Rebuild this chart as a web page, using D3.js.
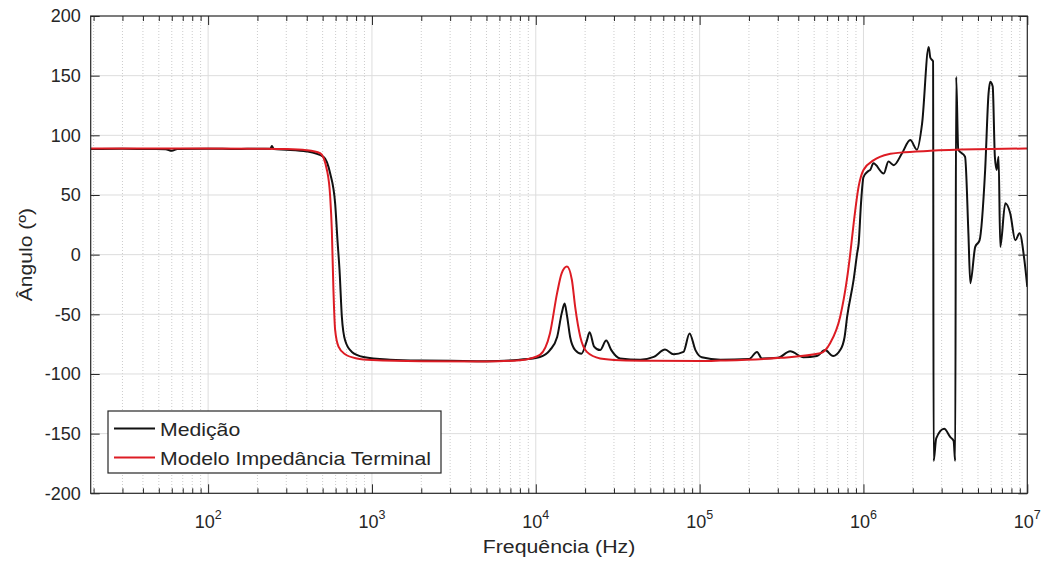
<!DOCTYPE html>
<html>
<head>
<meta charset="utf-8">
<script src="https://cdn.jsdelivr.net/npm/d3@7"></script>
<style>
    body { margin: 0; background: #fff; }
    text { font-family: "Liberation Sans", Arial, sans-serif; fill: #262626; }
</style>
</head>
<body>
<div class="chart-container"></div>
<script>
// Data (frequency in Hz, angle in degrees).
const xMin = 19.2;
const xMax = 1e7;

const yTicks = [-200, -150, -100, -50, 0, 50, 100, 150, 200];
const xDecades = [2, 3, 4, 5, 6, 7];

const measFreq = [19.2, 30, 45, 55, 60, 65, 100, 150, 200, 240, 245, 252, 300, 400,
    506, 556, 596, 616, 634, 655, 686, 754, 887, 1290, 2000, 3000, 5000, 8000,
    10600, 12200, 13500, 14400, 15000, 15500, 16200, 17400, 19000, 20500, 21300,
    22700, 24700, 26900, 28900, 32700, 43500, 52500, 61500, 69400, 79700, 86800,
    94300, 103000, 134000, 200000, 224000, 240000, 300000, 357000, 430000, 520000,
    583000, 653000, 721000, 767000, 795000, 871000, 915000, 935000, 966000,
    1000000, 1070000, 1100000, 1150000, 1330000, 1420000, 1530000, 1720000,
    1930000, 2120000, 2280000, 2500000, 2560000, 2660000, 2680000, 2780000,
    3110000, 3390000, 3550000, 3630000, 3680000, 3790000, 4170000, 4370000,
    4490000, 4810000, 5110000, 5530000, 5800000, 5940000, 6150000, 6340000,
    6500000, 6680000, 6840000, 7340000, 7870000, 8450000, 8970000, 9600000, 10000000];
const measAngle = [88.5, 88.8, 88.5, 88.3, 87, 88.5, 88.8, 88.5, 88.8, 88.8, 91, 88.5, 88, 86.5,
    82, 68, 43, 12, -13, -52, -72, -81.5, -85.7, -88, -88.8, -89, -89.3, -88,
    -85.7, -80, -69, -49, -41, -51, -69, -80, -83, -72, -65,
    -77, -80, -72, -80, -87, -88, -85.7, -79.5, -83.5, -81.5, -66,
    -80, -86, -88, -87.5, -81.5, -87, -86.5, -81, -86, -85,
    -80, -85, -80, -69, -52, -21, 1, 9.6, 43,
    65, 70, 71, 76.5, 68, 78, 75, 85,
    96, 88, 110, 174, 165, 162, -173, -154,
    -146, -153, -156, -173, 149, 88, 82, 18,
    -24, 6.5, 12, 71, 135, 145, 141, 82,
    71, 82, 6.5, 43, 34.5, 12, 18, -4.6, -27];

const modelFreq = [19.2, 50, 100, 200, 300, 400, 483, 531, 556, 569, 582, 596, 625, 686,
    809, 1000, 2000, 5000, 8000, 9250, 10600, 12200, 13500, 14400, 15500, 16600,
    17400, 18700, 20500, 24700, 32700, 50000, 100000, 134000, 310000, 545000,
    627000, 721000, 792000, 831000, 871000, 934000, 1000000, 1150000, 1260000,
    1460000, 1680000, 2560000, 5000000, 10000000];
const modelAngle = [89, 89, 89, 88.8, 88.5, 87.5, 85, 71, 48.5, 20.5, -30, -63, -77, -83.5,
    -87, -88.3, -89.3, -89.5, -88.5, -87, -84, -66, -32, -15.5, -10, -21,
    -44, -69, -81.5, -87, -88.5, -89, -89.2, -88.8, -86.5, -82.7,
    -74, -52, -21, 1, 26, 57, 71, 79, 82,
    84.5, 85.5, 87, 88.3, 89];

const seriesNames = ['Medição', 'Modelo Impedância Terminal'];
const seriesColors = ['#111111', '#dd1c24'];

function buildChart() {
    const width = 1043;
    const height = 561;
    const margin = {top: 16, right: 15.7, bottom: 67.7, left: 90.7};

    const measured = measFreq.map((f, i) => [f, measAngle[i]]);
    const model = modelFreq.map((f, i) => [f, modelAngle[i]]);

    // Scales.
    const x = d3.scaleLog()
        .domain([xMin, xMax])
        .range([margin.left, width - margin.right]);

    const y = d3.scaleLinear()
        .domain([-200, 200])
        .range([height - margin.bottom, margin.top]);

    const majorX = xDecades.map(d => Math.pow(10, d));
    const minorX = [];
    for (let d = 1; d <= 6; d++) {
        for (let m = 2; m <= 9; m++) {
            const v = m * Math.pow(10, d);
            if (v > xMin && v < xMax) minorX.push(v);
        }
    }

    const svg = d3.select('.chart-container')
        .append('svg')
        .attr('width', width)
        .attr('height', height);

    // Grid.
    const grid = svg.append('g').attr('class', 'grid');

    grid.selectAll('line.minor')
        .data(minorX)
        .join('line')
        .attr('class', 'minor')
        .attr('x1', d => x(d)).attr('x2', d => x(d))
        .attr('y1', y(200)).attr('y2', y(-200))
        .attr('stroke', '#cccccc')
        .attr('stroke-width', 1)
        .attr('stroke-dasharray', '1,2');

    grid.selectAll('line.majorx')
        .data(majorX.filter(d => d < xMax))
        .join('line')
        .attr('class', 'majorx')
        .attr('x1', d => x(d)).attr('x2', d => x(d))
        .attr('y1', y(200)).attr('y2', y(-200))
        .attr('stroke', '#dddddd')
        .attr('stroke-width', 1);

    grid.selectAll('line.majory')
        .data(yTicks.filter(d => d > -200 && d < 200))
        .join('line')
        .attr('class', 'majory')
        .attr('x1', x(xMin)).attr('x2', x(xMax))
        .attr('y1', d => y(d)).attr('y2', d => y(d))
        .attr('stroke', '#dddddd')
        .attr('stroke-width', 1);

    // Lines.
    svg.append('clipPath')
        .attr('id', 'plot-clip')
        .append('rect')
        .attr('x', margin.left)
        .attr('y', margin.top)
        .attr('width', width - margin.left - margin.right)
        .attr('height', height - margin.top - margin.bottom);

    const lineGenerator = d3.line()
        .x(d => x(d[0]))
        .y(d => y(d[1]))
        .curve(d3.curveMonotoneX);

    svg.append('g')
        .attr('clip-path', 'url(#plot-clip)')
        .selectAll('path')
        .data([measured, model])
        .join('path')
        .attr('d', lineGenerator)
        .attr('fill', 'none')
        .attr('stroke', (d, i) => seriesColors[i])
        .attr('stroke-width', 2)
        .attr('stroke-linejoin', 'round');

    // Axes (ticks point inward, box on all sides).
    const axisColor = '#262626';
    const styleAxis = g => {
        g.select('.domain').remove();
        g.selectAll('.tick line').attr('stroke', axisColor);
        g.selectAll('.tick text').remove();
    };

    svg.append('g')
        .attr('transform', `translate(0,${y(-200)})`)
        .call(d3.axisBottom(x).tickValues(majorX).tickSize(-9).tickSizeOuter(0))
        .call(styleAxis);
    svg.append('g')
        .attr('transform', `translate(0,${y(-200)})`)
        .call(d3.axisBottom(x).tickValues(minorX).tickSize(-5).tickSizeOuter(0))
        .call(styleAxis);
    svg.append('g')
        .attr('transform', `translate(0,${y(200)})`)
        .call(d3.axisTop(x).tickValues(majorX).tickSize(-9).tickSizeOuter(0))
        .call(styleAxis);
    svg.append('g')
        .attr('transform', `translate(0,${y(200)})`)
        .call(d3.axisTop(x).tickValues(minorX).tickSize(-5).tickSizeOuter(0))
        .call(styleAxis);
    svg.append('g')
        .attr('transform', `translate(${x(xMin)},0)`)
        .call(d3.axisLeft(y).tickValues(yTicks).tickSize(-9).tickSizeOuter(0))
        .call(styleAxis);
    svg.append('g')
        .attr('transform', `translate(${x(xMax)},0)`)
        .call(d3.axisRight(y).tickValues(yTicks).tickSize(-9).tickSizeOuter(0))
        .call(styleAxis);

    svg.append('rect')
        .attr('x', x(xMin))
        .attr('y', y(200))
        .attr('width', x(xMax) - x(xMin))
        .attr('height', y(-200) - y(200))
        .attr('fill', 'none')
        .attr('stroke', axisColor)
        .attr('stroke-width', 1.2);

    // Tick labels.
    svg.append('g')
        .selectAll('text')
        .data(yTicks)
        .join('text')
        .attr('x', x(xMin) - 10)
        .attr('y', d => y(d))
        .attr('dy', '0.35em')
        .attr('text-anchor', 'end')
        .attr('font-size', 18)
        .text(d => d);

    const xLabels = svg.append('g')
        .selectAll('text')
        .data(xDecades)
        .join('text')
        .attr('x', d => x(Math.pow(10, d)))
        .attr('y', 528)
        .attr('text-anchor', 'middle')
        .attr('font-size', 18);
    xLabels.append('tspan').text('10');
    xLabels.append('tspan')
        .attr('dy', -9)
        .attr('font-size', 12.5)
        .text(d => d);

    // Axis titles.
    svg.append('text')
        .attr('transform', `translate(${(x(xMin) + x(xMax)) / 2},553) scale(1.15,1)`)
        .attr('text-anchor', 'middle')
        .attr('font-size', 18.5)
        .text('Frequência (Hz)');

    svg.append('text')
        .attr('transform', `translate(31.5,${(y(200) + y(-200)) / 2}) rotate(-90) scale(1.14,1)`)
        .attr('text-anchor', 'middle')
        .attr('font-size', 18.5)
        .text('Ângulo (º)');

    // Legend.
    const legend = svg.append('g').attr('class', 'legend');
    legend.append('rect')
        .attr('x', 108)
        .attr('y', 411)
        .attr('width', 333)
        .attr('height', 62)
        .attr('fill', '#fff')
        .attr('stroke', axisColor)
        .attr('stroke-width', 1.2);

    const item = legend.selectAll('g.item')
        .data(seriesNames)
        .join('g')
        .attr('class', 'item')
        .attr('transform', (d, i) => `translate(0,${428.5 + i * 29})`);
    item.append('line')
        .attr('x1', 114).attr('x2', 155)
        .attr('y1', 0).attr('y2', 0)
        .attr('stroke', (d, i) => seriesColors[i])
        .attr('stroke-width', 2);
    item.append('text')
        .attr('transform', 'translate(160,7) scale(1.18,1)')
        .attr('font-size', 18)
        .text(d => d);
}

buildChart();
</script>
</body>
</html>
